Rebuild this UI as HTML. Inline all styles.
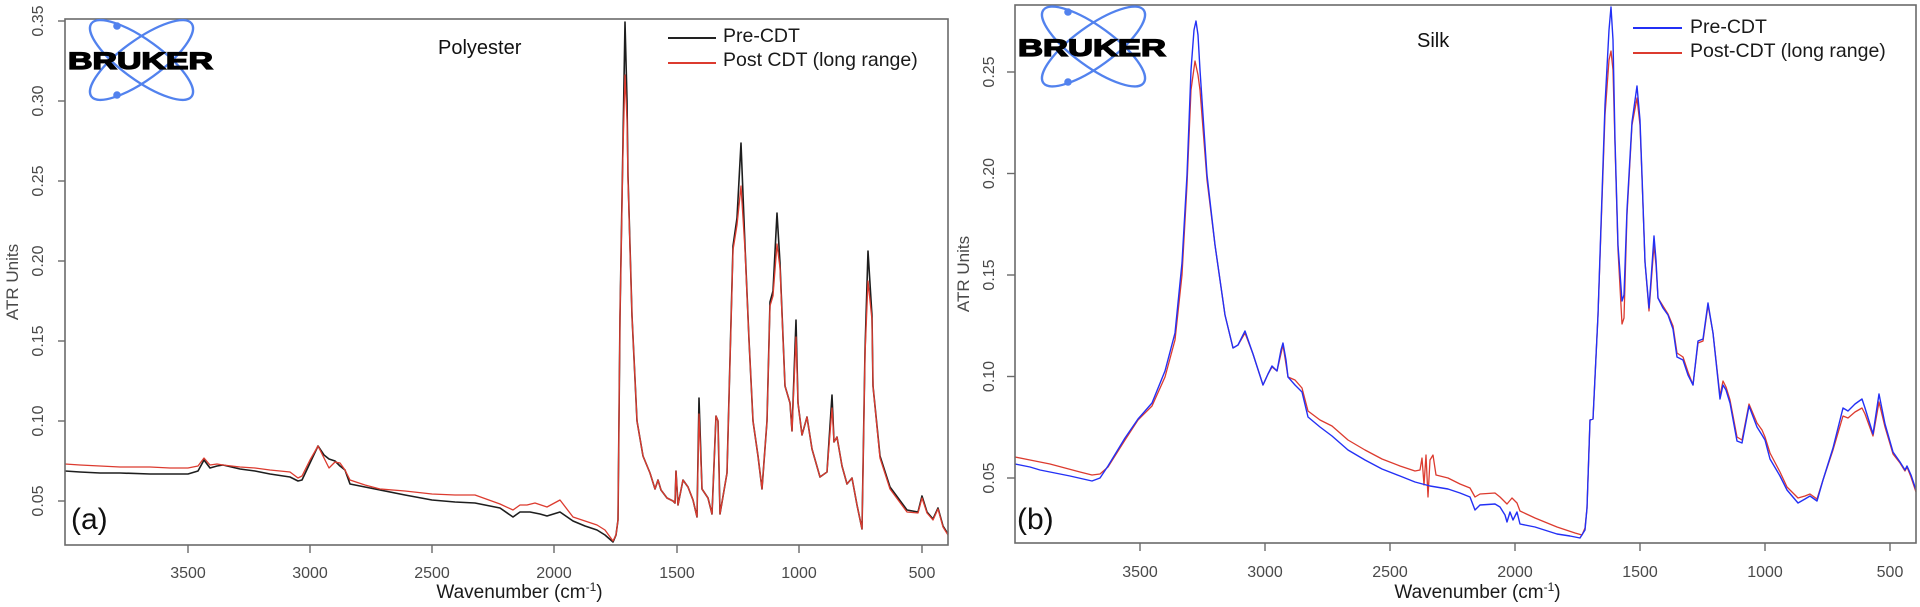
<!DOCTYPE html>
<html>
<head>
<meta charset="utf-8">
<style>
html,body{margin:0;padding:0;background:#fff;}
svg{display:block;}
text{font-family:"Liberation Sans",Arial,sans-serif;}
.tk{font-size:16px;fill:#4a4a4a;}
.lg{font-size:19.5px;fill:#1a1a1a;}
</style>
</head>
<body>
<svg width="1920" height="607" viewBox="0 0 1920 607" xmlns="http://www.w3.org/2000/svg">
<rect width="1920" height="607" fill="#fff"/>

<!-- ================= LEFT PANEL ================= -->
<g fill="none" stroke-linejoin="round">
<!-- black Pre-CDT -->
<polyline stroke="#1e1e1e" stroke-width="1.6" points="65,471 80,472 100,473 120,473 150,474 170,474 188,474 198,471 204,460 210,468 217,466 223,465 240,469 255,471 270,474 290,477 298,481 302,480 310,463 318,446 324,455 329,459 335,461 340,466 345,470 350,484 365,487 380,490 405,495 432,500 455,502 475,503 500,508 513,517 520,512 530,512 540,514 547,516 560,512 573,521 585,526 597,530 605,535 613,542 616,535 618,520 620,316 623,141 625,22 627,100 628,176 632,316 637,421 643,456 650,473 655,489 658,480 661,490 667,498 673,501 675,503 676,471 678,505 683,480 688,487 693,500 697,517 699,398 702,489 708,498 712,514 716,416 718,421 720,514 727,473 733,246 737,218 741,143 745,246 749,340 753,421 758,456 762,489 767,421 770,302 773,291 777,213 780,263 785,386 790,403 792,431 796,320 798,403 802,435 807,417 812,449 820,477 827,472 832,395 834,442 837,437 842,466 847,484 852,478 857,505 862,529 865,351 868,251 872,316 873,386 880,456 890,487 907,510 918,512 922,496 927,512 933,519 938,508 943,526 948,534"/>
<!-- red Post CDT -->
<polyline stroke="#dc3b2f" stroke-width="1.3" points="65,464 80,465 100,466 120,467 150,467 170,468 188,468 198,466 204,458 210,465 217,464 223,465 240,467 255,468 270,470 290,472 298,478 302,476 310,460 318,446 324,458 329,468 335,462 340,463 345,470 350,480 365,485 380,489 405,491 432,494 455,495 475,495 500,504 513,510 520,505 527,505 535,503 547,507 560,500 573,517 585,521 597,525 605,530 613,541 616,535 618,520 620,316 623,150 625,75 627,120 628,180 632,316 637,421 643,456 650,473 655,489 658,480 661,490 667,498 673,501 675,503 676,471 678,505 683,480 688,487 693,500 697,517 699,414 702,489 708,498 712,514 716,416 718,421 720,514 727,473 733,250 737,225 741,186 745,250 749,340 753,421 758,456 762,489 767,421 770,306 773,296 777,244 780,268 785,386 790,403 792,431 796,337 798,403 802,435 807,417 812,449 820,477 827,472 832,408 834,442 837,437 842,466 847,484 852,478 857,505 862,529 865,355 868,281 872,320 873,386 880,458 890,489 907,512 918,513 922,498 927,513 933,520 938,509 943,527 948,535"/>
</g>

<!-- left frame -->
<rect x="65" y="19" width="883" height="526" fill="none" stroke="#6a6a6a" stroke-width="1.6"/>
<!-- left y ticks -->
<g stroke="#6a6a6a" stroke-width="1.4">
<line x1="58" y1="21" x2="65" y2="21"/>
<line x1="58" y1="101" x2="65" y2="101"/>
<line x1="58" y1="181" x2="65" y2="181"/>
<line x1="58" y1="261" x2="65" y2="261"/>
<line x1="58" y1="341" x2="65" y2="341"/>
<line x1="58" y1="421" x2="65" y2="421"/>
<line x1="58" y1="501" x2="65" y2="501"/>
<line x1="188" y1="545" x2="188" y2="553"/>
<line x1="310" y1="545" x2="310" y2="553"/>
<line x1="432" y1="545" x2="432" y2="553"/>
<line x1="554" y1="545" x2="554" y2="553"/>
<line x1="677" y1="545" x2="677" y2="553"/>
<line x1="799" y1="545" x2="799" y2="553"/>
<line x1="922" y1="545" x2="922" y2="553"/>
</g>
<g class="tk" text-anchor="middle">
<text transform="translate(43,21) rotate(-90)">0.35</text>
<text transform="translate(43,101) rotate(-90)">0.30</text>
<text transform="translate(43,181) rotate(-90)">0.25</text>
<text transform="translate(43,261) rotate(-90)">0.20</text>
<text transform="translate(43,341) rotate(-90)">0.15</text>
<text transform="translate(43,421) rotate(-90)">0.10</text>
<text transform="translate(43,501) rotate(-90)">0.05</text>
<text x="188" y="578">3500</text>
<text x="310" y="578">3000</text>
<text x="432" y="578">2500</text>
<text x="554" y="578">2000</text>
<text x="677" y="578">1500</text>
<text x="799" y="578">1000</text>
<text x="922" y="578">500</text>
</g>
<text transform="translate(18,282) rotate(-90)" text-anchor="middle" font-size="17" fill="#4a4a4a">ATR Units</text>
<text x="519.5" y="598" text-anchor="middle" font-size="19" fill="#1a1a1a">Wavenumber (cm<tspan font-size="12" dy="-7">-1</tspan><tspan dy="7">)</tspan></text>
<text x="71" y="529" font-size="30" fill="#111">(a)</text>
<text x="438" y="54" font-size="20" fill="#111">Polyester</text>
<!-- left legend -->
<line x1="668" y1="38" x2="716" y2="38" stroke="#222" stroke-width="2"/>
<line x1="668" y1="63" x2="716" y2="63" stroke="#dc3b2f" stroke-width="2"/>
<text class="lg" x="723" y="42">Pre-CDT</text>
<text class="lg" x="723" y="66">Post CDT (long range)</text>
<!-- left logo -->
<g fill="none" stroke="#5282ee" stroke-width="2.3">
<ellipse cx="141.5" cy="60" rx="62" ry="20" transform="rotate(36 141.5 60)"/>
<ellipse cx="141.5" cy="60" rx="62" ry="20" transform="rotate(-36 141.5 60)"/>
</g>
<circle cx="117" cy="26" r="3.8" fill="#5282ee"/>
<circle cx="117" cy="95" r="3.8" fill="#5282ee"/>
<text x="68" y="69" font-size="24" font-weight="bold" textLength="145" lengthAdjust="spacingAndGlyphs" fill="#000" stroke="#000" stroke-width="1.3">BRUKER</text>

<!-- ================= RIGHT PANEL ================= -->
<g fill="none" stroke-linejoin="round">
<!-- red Post-CDT -->
<polyline stroke="#dc3b2f" stroke-width="1.3" points="1015,457 1030,460 1050,464 1065,468 1080,472 1092,475 1100,474 1108,467 1125,440 1138,420 1152,406 1165,377 1175,340 1182,275 1187,185 1191,90 1195,61 1198,75 1200,90 1207,180 1215,245 1225,315 1233,348 1238,345 1245,333 1253,354 1263,385 1268,374 1272,367 1277,371 1283,345 1288,377 1295,380 1302,388 1308,411 1320,420 1332,426 1348,440 1365,450 1382,459 1400,466 1415,471 1420,470 1422,458 1424,485 1426,455 1428,497 1430,460 1433,455 1436,475 1448,478 1460,484 1470,488 1475,497 1480,494 1495,493 1500,497 1507,504 1512,498 1517,503 1520,511 1535,518 1557,527 1575,533 1582,535 1585,528 1587,508 1590,420 1593,419 1598,315 1605,115 1609,60 1611,51 1613,70 1615,145 1618,250 1622,324 1624,318 1627,215 1632,125 1637,98 1640,125 1642,178 1645,262 1649,311 1651,285 1654,245 1656,265 1658,298 1663,306 1668,314 1673,326 1677,353 1683,357 1688,372 1693,385 1698,343 1703,341 1708,305 1713,333 1720,396 1723,381 1726,387 1730,400 1737,437 1742,440 1749,404 1757,423 1762,430 1765,437 1770,453 1780,472 1787,487 1798,498 1805,496 1810,494 1817,499 1823,480 1833,450 1843,416 1848,418 1855,412 1862,408 1865,414 1873,436 1879,402 1885,427 1893,454 1900,463 1905,471 1907,467 1911,477 1916,492"/>
<!-- blue Pre-CDT -->
<polyline stroke="#2330f5" stroke-width="1.4" points="1015,464 1030,467 1040,470 1055,473 1070,476 1092,481 1100,478 1108,466 1125,438 1138,419 1152,403 1165,371 1175,333 1182,263 1187,175 1191,70 1194,30 1196,21 1198,35 1200,70 1207,175 1215,245 1225,315 1233,348 1238,345 1245,331 1253,354 1263,385 1268,374 1272,366 1277,371 1281,350 1283,343 1286,360 1288,377 1295,385 1302,392 1308,417 1320,427 1332,436 1348,450 1365,460 1382,469 1400,476 1415,482 1430,486 1448,489 1460,493 1470,497 1475,510 1480,505 1495,504 1500,507 1505,515 1507,522 1510,512 1513,520 1517,512 1520,524 1535,527 1557,534 1570,536 1580,538 1585,530 1587,508 1590,420 1593,419 1598,315 1605,105 1609,30 1611,7 1613,40 1615,140 1618,245 1622,301 1624,295 1627,210 1632,122 1637,86 1640,120 1642,175 1645,262 1649,308 1651,280 1654,236 1656,260 1658,298 1663,308 1668,315 1673,329 1677,357 1683,360 1688,375 1693,385 1698,341 1703,339 1708,303 1713,333 1720,399 1723,385 1726,390 1730,403 1737,441 1742,443 1749,406 1757,427 1762,435 1765,440 1770,459 1780,476 1787,490 1798,503 1805,499 1810,496 1817,501 1823,480 1833,448 1843,408 1848,411 1855,404 1862,399 1865,408 1873,434 1879,394 1885,424 1893,452 1900,462 1905,470 1907,466 1911,475 1916,490"/>
</g>

<!-- right frame -->
<rect x="1015" y="5" width="901" height="538" fill="none" stroke="#6a6a6a" stroke-width="1.6"/>
<g stroke="#6a6a6a" stroke-width="1.4">
<line x1="1007" y1="72" x2="1015" y2="72"/>
<line x1="1007" y1="173.5" x2="1015" y2="173.5"/>
<line x1="1007" y1="275" x2="1015" y2="275"/>
<line x1="1007" y1="376.5" x2="1015" y2="376.5"/>
<line x1="1007" y1="478" x2="1015" y2="478"/>
<line x1="1140" y1="543" x2="1140" y2="551"/>
<line x1="1265" y1="543" x2="1265" y2="551"/>
<line x1="1390" y1="543" x2="1390" y2="551"/>
<line x1="1515" y1="543" x2="1515" y2="551"/>
<line x1="1640" y1="543" x2="1640" y2="551"/>
<line x1="1765" y1="543" x2="1765" y2="551"/>
<line x1="1890" y1="543" x2="1890" y2="551"/>
</g>
<g class="tk" text-anchor="middle">
<text transform="translate(994,72) rotate(-90)">0.25</text>
<text transform="translate(994,173.5) rotate(-90)">0.20</text>
<text transform="translate(994,275) rotate(-90)">0.15</text>
<text transform="translate(994,376.5) rotate(-90)">0.10</text>
<text transform="translate(994,478) rotate(-90)">0.05</text>
<text x="1140" y="577">3500</text>
<text x="1265" y="577">3000</text>
<text x="1390" y="577">2500</text>
<text x="1515" y="577">2000</text>
<text x="1640" y="577">1500</text>
<text x="1765" y="577">1000</text>
<text x="1890" y="577">500</text>
</g>
<text transform="translate(969,274) rotate(-90)" text-anchor="middle" font-size="17" fill="#4a4a4a">ATR Units</text>
<text x="1477.5" y="598" text-anchor="middle" font-size="19" fill="#1a1a1a">Wavenumber (cm<tspan font-size="12" dy="-7">-1</tspan><tspan dy="7">)</tspan></text>
<text x="1017" y="529" font-size="30" fill="#111">(b)</text>
<text x="1417" y="47" font-size="20" fill="#111">Silk</text>
<!-- right legend -->
<line x1="1633" y1="28" x2="1682" y2="28" stroke="#2330f5" stroke-width="2"/>
<line x1="1633" y1="53" x2="1682" y2="53" stroke="#dc3b2f" stroke-width="2"/>
<text class="lg" x="1690" y="33">Pre-CDT</text>
<text class="lg" x="1690" y="57">Post-CDT (long range)</text>
<!-- right logo -->
<g fill="none" stroke="#5282ee" stroke-width="2.3">
<ellipse cx="1093.5" cy="46.5" rx="62" ry="20" transform="rotate(36 1093.5 46.5)"/>
<ellipse cx="1093.5" cy="46.5" rx="62" ry="20" transform="rotate(-36 1093.5 46.5)"/>
</g>
<circle cx="1068" cy="12" r="3.8" fill="#5282ee"/>
<circle cx="1068" cy="82" r="3.8" fill="#5282ee"/>
<text x="1018" y="56" font-size="24" font-weight="bold" textLength="148" lengthAdjust="spacingAndGlyphs" fill="#000" stroke="#000" stroke-width="1.3">BRUKER</text>
</svg>
</body>
</html>
